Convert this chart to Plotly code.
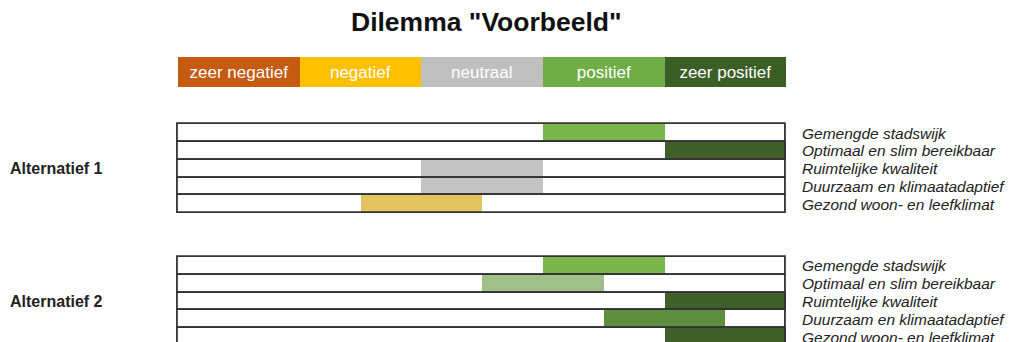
import plotly.graph_objects as go

# ---------------- data ----------------
title = 'Dilemma "Voorbeeld"'
scale_labels = ["zeer negatief", "negatief", "neutraal", "positief", "zeer positief"]
scale_scores = [-2, -1, 0, 1, 2]
scale_colors = ["#c55a11", "#ffc000", "#bfbfbf", "#70ad47", "#3b5e26"]

criteria = ["Gemengde stadswijk", "Optimaal en slim bereikbaar", "Ruimtelijke kwaliteit",
            "Duurzaam en klimaatadaptief", "Gezond woon- en leefklimat"]
alternatives = ["Alternatief 1", "Alternatief 2"]

alt1_scores = [1, 2, 0, 0, -0.5]
alt1_colors = ["#79b54b", "#405f2a", "#c4c4c4", "#c4c4c4", "#e3c45e"]
alt2_scores = [1, 0.5, 2, 1.5, 2]
alt2_colors = ["#79b54b", "#a0c08a", "#405f2a", "#5e8f3e", "#405f2a"]

# ---------------- layout constants ----------------
W, H = 1009, 342
x0_px, x1_px = 178, 786          # bar area in pixels (score -2.5 .. 2.5)
pad = 0.1                        # extra axis room so outlines are not clipped
unit_px = (x1_px - x0_px) / 5.0
row_px = 17.8                    # pixel height of one row
first_row_center_px = 133.0
group_step = 7.47                # rows between group starts
legend_center_px = 72.0
legend_h_px = 30.0

y_top = -first_row_center_px / row_px
y_bot = (H - first_row_center_px) / row_px
legend_y = (legend_center_px - first_row_center_px) / row_px

FONT = "Liberation Sans, Arial, sans-serif"

fig = go.Figure()

groups = [(alt1_scores, alt1_colors), (alt2_scores, alt2_colors)]
ys_all = []
for g, (scores, colors) in enumerate(groups):
    ys = [g * group_step + k for k in range(len(criteria))]
    ys_all.append(ys)
    # white background row
    fig.add_trace(go.Bar(orientation="h", y=ys, x=[5] * len(ys), base=[-2.5] * len(ys),
                         width=1, marker=dict(color="white", line=dict(width=0)),
                         hoverinfo="skip"))
    # coloured score segments
    fig.add_trace(go.Bar(orientation="h", y=ys, x=[1] * len(ys),
                         base=[s - 0.5 for s in scores], width=1,
                         marker=dict(color=colors, line=dict(width=0)),
                         hoverinfo="skip"))
    # outlines on top
    fig.add_trace(go.Bar(orientation="h", y=ys, x=[5] * len(ys), base=[-2.5] * len(ys),
                         width=1, marker=dict(color="rgba(0,0,0,0)",
                                              line=dict(width=1.8, color="#333333")),
                         hoverinfo="skip"))

# legend / scale boxes
fig.add_trace(go.Bar(orientation="h", y=[legend_y] * 5, x=[1] * 5,
                     base=[s - 0.5 for s in scale_scores], width=legend_h_px / row_px,
                     marker=dict(color=scale_colors, line=dict(width=0)),
                     text=scale_labels, textposition="inside", insidetextanchor="middle",
                     textfont=dict(color="white", size=17, family=FONT),
                     textangle=0, hoverinfo="skip"))

annotations = []
for g, ys in enumerate(ys_all):
    for k, name in enumerate(criteria):
        annotations.append(dict(xref="paper", yref="y", x=800 / W, y=ys[k], text=name,
                                showarrow=False, xanchor="left", yanchor="middle",
                                font=dict(size=15.5, color="#222222",
                                          family=FONT, style="italic")))
    annotations.append(dict(xref="paper", yref="y", x=8 / W, y=ys[2],
                            text="<b>" + alternatives[g] + "</b>", showarrow=False,
                            xanchor="left", yanchor="middle",
                            font=dict(size=16, color="#222222", family=FONT)))

annotations.append(dict(xref="paper", yref="paper", x=486 / W, y=1 - 22 / H,
                        text="<b>" + title + "</b>", showarrow=False,
                        xanchor="center", yanchor="middle",
                        font=dict(size=26.5, color="#111111", family=FONT)))

fig.update_layout(
    width=W, height=H, margin=dict(l=0, r=0, t=0, b=0),
    paper_bgcolor="white", plot_bgcolor="white",
    barmode="overlay", showlegend=False, bargap=0,
    xaxis=dict(domain=[(x0_px - pad * unit_px) / W, (x1_px + pad * unit_px) / W],
               range=[-2.5 - pad, 2.5 + pad], visible=False, fixedrange=True),
    yaxis=dict(domain=[0, 1], range=[y_bot, y_top], visible=False, fixedrange=True),
    annotations=annotations,
)

fig.write_html("out.html")
